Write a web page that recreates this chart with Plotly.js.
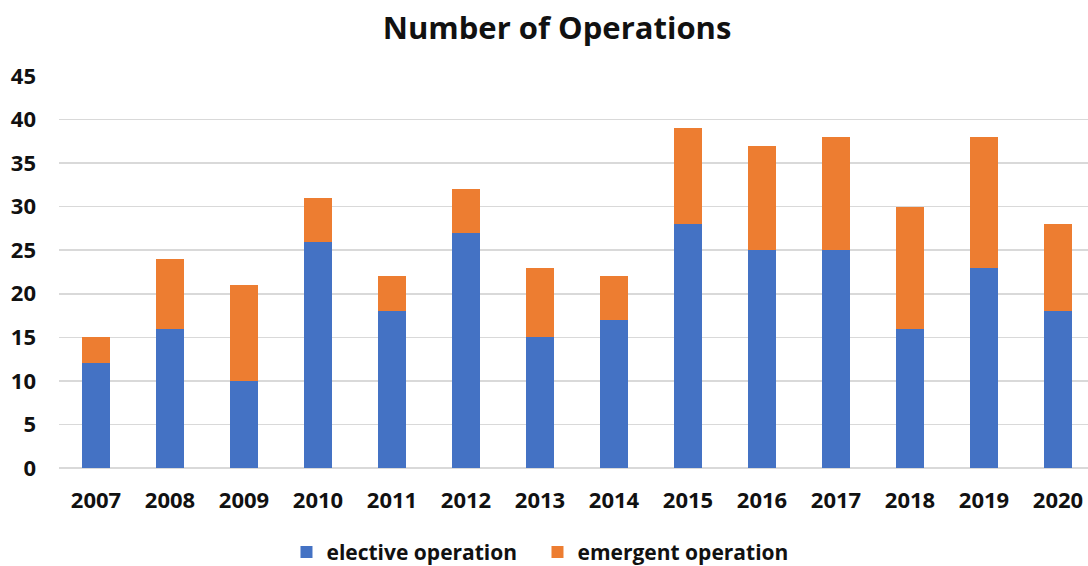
<!DOCTYPE html>
<html><head><meta charset="utf-8">
<script src="https://cdn.plot.ly/plotly-3.0.1.min.js"></script>
<style>html,body{margin:0;padding:0;background:#fff}#chart{width:1088px;height:566px}</style>
</head><body><div id="chart"></div>
<script>
const years = ["2007","2008","2009","2010","2011","2012","2013","2014","2015","2016","2017","2018","2019","2020"];
const elective = [12,16,10,26,18,27,15,17,28,25,25,16,23,18];
const emergent = [3,8,11,5,4,5,8,5,11,12,13,14,15,10];
const seriesNames = ["elective operation","emergent operation"];
const FONT = "'Open Sans', 'Noto Sans', sans-serif";
const traces = [
  {type:'bar', x:years, y:elective, name:seriesNames[0], marker:{color:'#4472C4'}},
  {type:'bar', x:years, y:emergent, name:seriesNames[1], marker:{color:'#ED7D31'}}
];
const layout = {
  width:1088, height:566,
  barmode:'stack', bargap:0.61,
  paper_bgcolor:'#fff', plot_bgcolor:'#fff',
  margin:{l:59, r:0, t:76, b:98, autoexpand:false},
  font:{family:FONT, color:'#111', size:21, weight:700},
  title:{text:'<b>Number of Operations</b>', x:0.512, xanchor:'center', y:0.95, yanchor:'middle', font:{family:FONT, size:31, color:'#111'}},
  xaxis:{type:'category', range:[-0.5,13.405], showgrid:false, zeroline:false, showline:false, ticks:'', tickfont:{family:FONT, size:22, weight:700, color:'#111'}, ticklabelstandoff:17, fixedrange:true},
  yaxis:{range:[0,45], dtick:5, tick0:0, showgrid:true, gridcolor:'#d9d9d9', gridwidth:1.5, zeroline:true, zerolinecolor:'#d9d9d9', zerolinewidth:1.5, showline:false, ticks:'', tickfont:{family:FONT, size:22, weight:700, color:'#111'}, ticklabelstandoff:22, fixedrange:true},
  legend:{orientation:'h', traceorder:'normal', x:0.465, xanchor:'center', y:-0.215, yanchor:'middle', font:{family:FONT, size:21, weight:700, color:'#111'}, itemwidth:30, entrywidth:206, entrywidthmode:'pixels', tracegroupgap:0}
};
Plotly.newPlot('chart', traces, layout, {displayModeBar:false, staticPlot:true});
</script></body></html>
